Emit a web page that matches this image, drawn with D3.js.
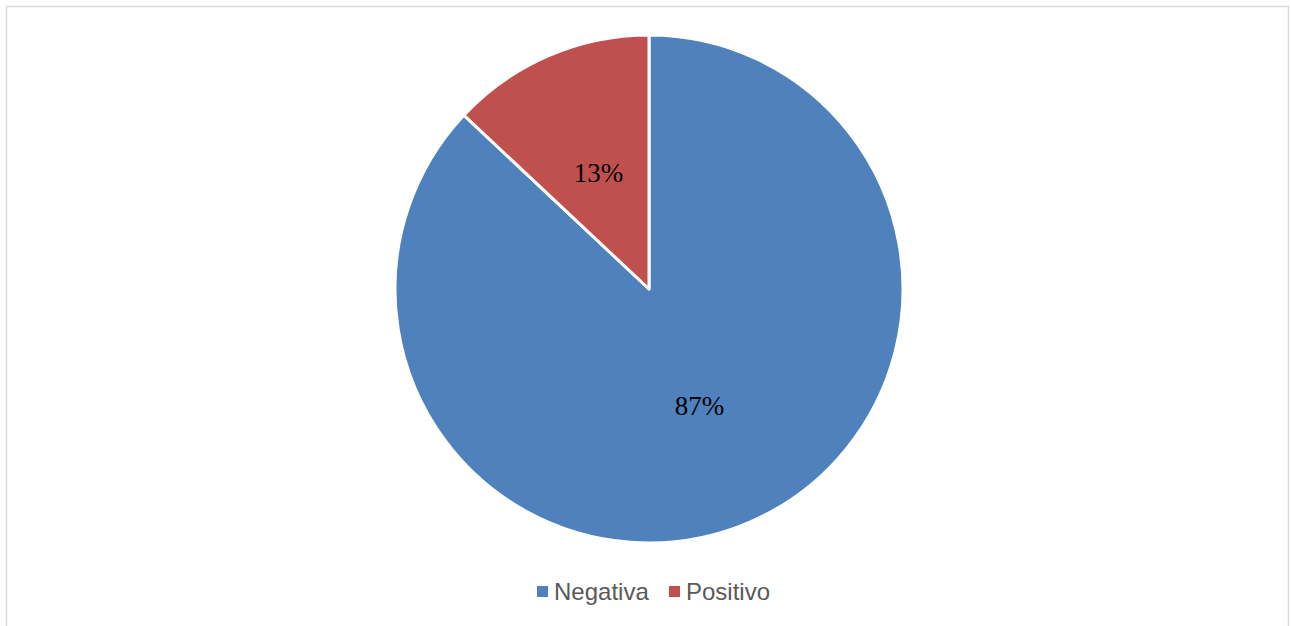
<!DOCTYPE html>
<html><head><meta charset="utf-8">
<script src="https://cdn.jsdelivr.net/npm/d3@7"></script>
<style>html,body{margin:0;padding:0;background:#fff;}</style>
</head><body>
<script>
const categories = ["Negativa", "Positivo"];
const values = [87, 13];
const colors = ["#4f81bd", "#c0504d"];

const W = 1291, H = 626;
const svg = d3.select("body").append("svg").attr("width", W).attr("height", H);

// frame
svg.append("rect").attr("x", 6.5).attr("y", 6.5).attr("width", 1282).attr("height", 640)
  .attr("fill", "none").attr("stroke", "#d9d9d9").attr("stroke-width", 1.5);

const cx = 649, cy = 289, R = 254;
const pie = d3.pie().sort(null).value(d => d)(values);
const arc = d3.arc().innerRadius(0).outerRadius(R);
const labelArc = d3.arc().innerRadius(R * 0.5).outerRadius(R * 0.5);

const g = svg.append("g").attr("transform", `translate(${cx},${cy})`);
g.selectAll("path").data(pie).join("path")
  .attr("d", arc).attr("fill", (d, i) => colors[i])
  .attr("stroke", "#fff").attr("stroke-width", 3).attr("stroke-linejoin", "round");

const fmt = d3.format(".0%");
const total = d3.sum(values);
g.selectAll("text").data(pie).join("text")
  .attr("transform", d => `translate(${labelArc.centroid(d)})`)
  .attr("text-anchor", "middle").attr("dy", "0.35em")
  .attr("font-family", "'Liberation Serif','Times New Roman',serif")
  .attr("font-size", 27).attr("fill", "#000")
  .text(d => fmt(d.data / total));

// legend
const legend = svg.append("g").attr("font-family", "'Liberation Sans',Arial,sans-serif")
  .attr("font-size", 24).attr("fill", "#595959");
const lx = [537, 669];
categories.forEach((c, i) => {
  legend.append("rect").attr("x", lx[i]).attr("y", 586).attr("width", 11).attr("height", 11).attr("fill", colors[i]);
  legend.append("text").attr("x", lx[i] + 17).attr("y", 592).attr("dy", "0.35em").text(c);
});
</script>
</body></html>
